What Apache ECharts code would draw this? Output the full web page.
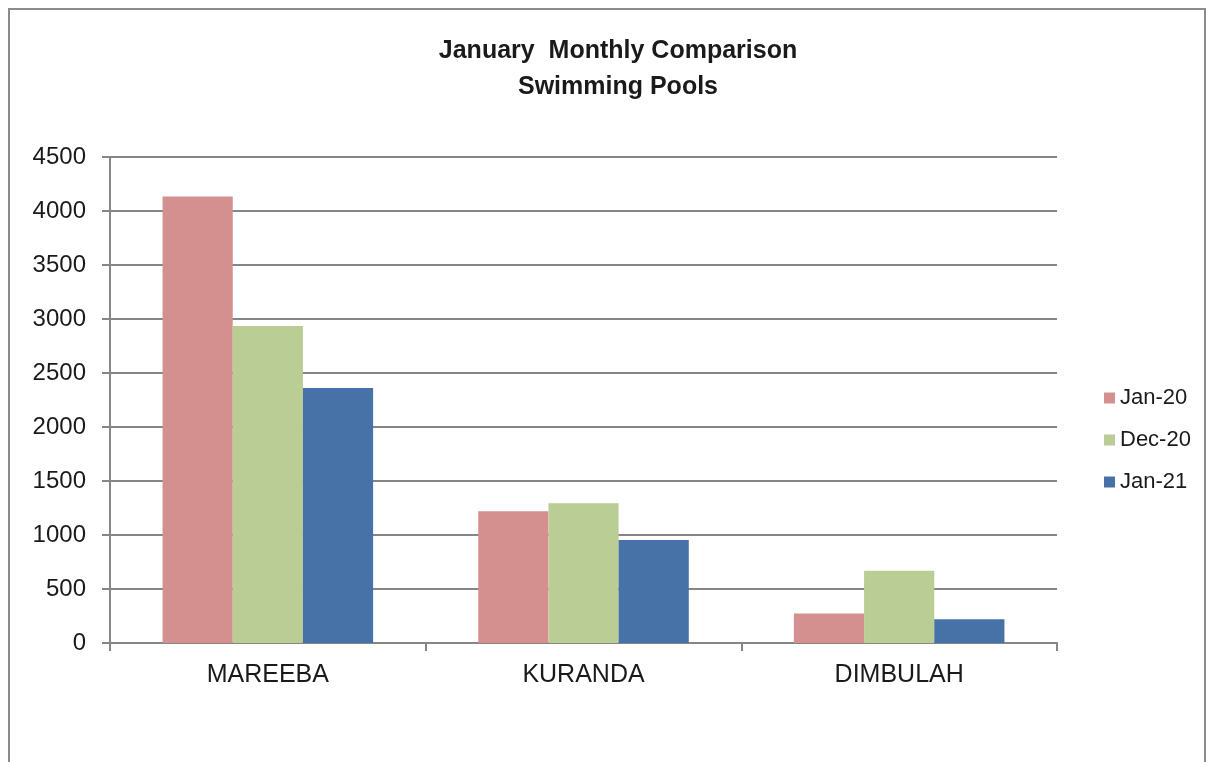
<!DOCTYPE html>
<html>
<head>
<meta charset="utf-8">
<script src="https://cdn.jsdelivr.net/npm/echarts@6/dist/echarts.min.js"></script>
<style>
  html, body { margin: 0; padding: 0; background: #fff; }
  #chart { width: 1209px; height: 762px; }
</style>
</head>
<body>
<div id="chart"></div>
<script>
var pools = ['MAREEBA', 'KURANDA', 'DIMBULAH'];
var months = ['Jan-20', 'Dec-20', 'Jan-21'];
var jan20 = [4135, 1220, 272];
var dec20 = [2935, 1295, 668];
var jan21 = [2360, 953, 220];
var colors = ['#D3908F', '#BACD94', '#4672A8'];

function initChart() {
  var myChart = echarts.init(document.getElementById('chart'));
  var values = [jan20, dec20, jan21];
  var series = months.map(function (m, i) {
    return {
      name: m,
      type: 'bar',
      data: values[i],
      barGap: '0%',
      barCategoryGap: '33.3%',
      itemStyle: { color: colors[i] }
    };
  });
  var option = {
    animation: false,
    backgroundColor: '#fff',
    graphic: [{
      type: 'rect',
      shape: { x: 9, y: 9, width: 1196, height: 800 },
      style: { fill: 'none', stroke: '#8c8c8c', lineWidth: 2 },
      silent: true
    }],
    title: {
      text: 'January  Monthly Comparison\nSwimming Pools',
      left: 613,
      textAlign: 'center',
      top: 28,
      textStyle: {
        fontFamily: 'Liberation Sans, Arial, sans-serif',
        fontWeight: 'bold',
        fontSize: 25,
        lineHeight: 36,
        color: '#1a1a1a'
      }
    },
    legend: {
      orient: 'vertical',
      left: 1099,
      top: 382,
      icon: 'rect',
      itemWidth: 11,
      itemHeight: 11,
      itemGap: 20,
      data: months,
      textStyle: { fontFamily: 'Liberation Sans, Arial, sans-serif', fontSize: 22, lineHeight: 22, color: '#1a1a1a' }
    },
    grid: { left: 110, right: 152, top: 157, bottom: 119 },
    xAxis: {
      type: 'category',
      data: pools,
      axisLine: { lineStyle: { color: '#868686', width: 2 } },
      axisTick: { show: true, length: 8, lineStyle: { color: '#868686', width: 2 } },
      axisLabel: { fontFamily: 'Liberation Sans, Arial, sans-serif', fontSize: 25, color: '#1a1a1a', margin: 20 }
    },
    yAxis: {
      type: 'value',
      min: 0,
      max: 4500,
      interval: 500,
      axisLine: { show: true, lineStyle: { color: '#868686', width: 2 } },
      axisTick: { show: true, length: 8, lineStyle: { color: '#868686', width: 2 } },
      axisLabel: {
        fontFamily: 'Liberation Sans, Arial, sans-serif',
        fontSize: 24,
        color: '#1a1a1a',
        margin: 24,
        formatter: function (v) { return String(v); }
      },
      splitLine: { lineStyle: { color: '#868686', width: 2 } }
    },
    series: series
  };
  myChart.setOption(option);
}

document.addEventListener('DOMContentLoaded', function () {
  initChart();
});
</script>
</body>
</html>
